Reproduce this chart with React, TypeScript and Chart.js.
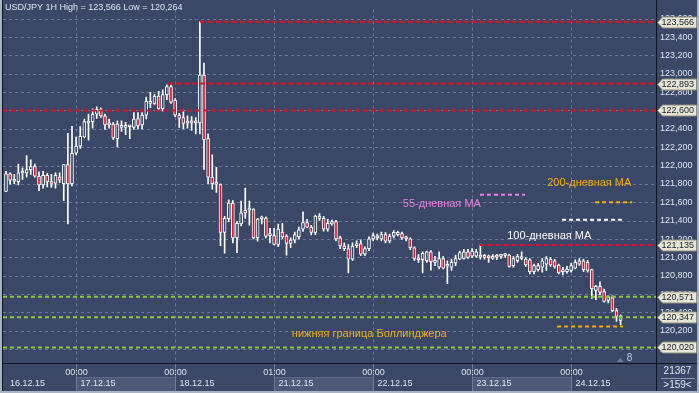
import React, { useEffect, useRef } from 'react';
import { Chart, registerables } from 'chart.js';

Chart.register(...registerables);

// ---------------- data ----------------
const opens = [
  121.719, 121.911, 121.829, 121.826, 121.917, 121.921, 121.953, 121.992, 121.883, 121.790,
  121.893, 121.826, 121.808, 121.875, 121.804, 122.010, 121.804, 122.134, 122.212, 122.311,
  122.464, 122.478, 122.560, 122.613, 122.542, 122.443, 122.453, 122.294, 122.417, 122.417,
  122.423, 122.417, 122.513, 122.443, 122.549, 122.701, 122.677, 122.754, 122.619, 122.772,
  122.861, 122.712, 122.549, 122.524, 122.462, 122.464, 122.488, 122.464, 122.985, 122.294,
  121.875, 121.804, 121.797, 121.273, 121.422, 121.592, 121.212, 121.364, 121.485, 121.515,
  121.521, 121.212, 121.420, 121.425, 121.237, 121.237, 121.141, 121.273, 121.231, 121.151,
  121.188, 121.223, 121.308, 121.379, 121.329, 121.273, 121.450, 121.425, 121.308, 121.364,
  121.390, 121.212, 121.124, 121.095, 120.981, 121.127, 121.151, 121.034, 121.095, 121.201,
  121.212, 121.201, 121.248, 121.176, 121.231, 121.248, 121.259, 121.212, 121.201, 121.105,
  120.988, 120.974, 120.964, 121.060, 120.946, 120.893, 120.988, 120.904, 120.893, 120.939,
  120.981, 120.988, 121.060, 121.013, 121.013, 121.003, 121.006, 121.001, 120.988, 121.006,
  121.011, 121.021, 121.024, 120.910, 120.964, 120.988, 120.981, 120.974, 120.846, 120.867,
  120.893, 120.927, 120.981, 120.964, 120.917, 120.846, 120.846, 120.857, 120.882, 120.927,
  120.964, 120.946, 120.867, 120.641, 120.684, 120.627, 120.531, 120.563, 120.421, 120.314,
];
const highs = [
  121.938, 121.921, 121.904, 122.016, 121.975, 122.109, 122.063, 122.016, 121.932, 121.938,
  121.917, 121.904, 121.921, 121.921, 122.014, 122.350, 122.428, 122.311, 122.425, 122.507,
  122.560, 122.619, 122.641, 122.630, 122.560, 122.507, 122.470, 122.488, 122.488, 122.470,
  122.435, 122.577, 122.577, 122.577, 122.747, 122.797, 122.772, 122.808, 122.826, 122.879,
  122.879, 122.730, 122.570, 122.605, 122.542, 122.534, 122.524, 123.566, 123.116, 122.345,
  122.116, 121.981, 121.802, 121.446, 121.627, 121.620, 121.390, 121.613, 121.754, 121.613,
  121.531, 121.425, 121.450, 121.441, 121.318, 121.318, 121.364, 121.372, 121.248, 121.212,
  121.277, 121.329, 121.496, 121.414, 121.350, 121.461, 121.478, 121.446, 121.414, 121.407,
  121.403, 121.233, 121.159, 121.141, 121.159, 121.180, 121.191, 121.116, 121.223, 121.265,
  121.255, 121.277, 121.271, 121.255, 121.292, 121.286, 121.277, 121.233, 121.212, 121.116,
  121.031, 121.060, 121.070, 121.073, 121.013, 121.060, 121.013, 120.964, 120.981, 121.024,
  121.070, 121.087, 121.087, 121.095, 121.087, 121.141, 121.034, 121.024, 121.031, 121.034,
  121.034, 121.045, 121.034, 121.009, 121.034, 121.060, 120.999, 120.988, 120.927, 120.935,
  120.988, 121.009, 120.999, 120.978, 120.927, 120.893, 120.903, 120.935, 120.974, 120.988,
  120.981, 120.967, 120.873, 120.695, 120.733, 120.655, 120.581, 120.581, 120.446, 120.374,
];
const lows = [
  121.717, 121.797, 121.804, 121.790, 121.850, 121.875, 121.904, 121.875, 121.726, 121.754,
  121.768, 121.761, 121.754, 121.815, 121.619, 121.364, 121.779, 122.116, 122.187, 122.300,
  122.276, 122.407, 122.513, 122.524, 122.393, 122.407, 122.286, 122.204, 122.371, 122.336,
  122.294, 122.393, 122.400, 122.400, 122.507, 122.630, 122.666, 122.595, 122.595, 122.719,
  122.677, 122.534, 122.417, 122.400, 122.407, 122.382, 122.345, 122.345, 121.957, 121.804,
  121.744, 121.709, 121.127, 121.045, 121.390, 121.159, 121.052, 121.343, 121.425, 121.350,
  121.201, 121.176, 121.364, 121.212, 121.159, 121.137, 121.116, 121.201, 121.024, 121.105,
  121.159, 121.201, 121.284, 121.322, 121.244, 121.248, 121.403, 121.286, 121.286, 121.350,
  121.180, 121.095, 121.073, 120.832, 120.967, 121.105, 121.020, 121.020, 121.073, 121.180,
  121.191, 121.180, 121.159, 121.159, 121.212, 121.233, 121.196, 121.180, 121.084, 120.967,
  120.946, 120.832, 120.946, 120.861, 120.910, 120.875, 120.875, 120.715, 120.857, 120.910,
  120.974, 120.981, 120.988, 120.999, 120.999, 120.981, 120.981, 120.946, 120.978, 120.974,
  120.988, 120.999, 120.893, 120.893, 120.946, 120.974, 120.903, 120.820, 120.820, 120.850,
  120.839, 120.857, 120.903, 120.882, 120.820, 120.810, 120.829, 120.839, 120.875, 120.914,
  120.846, 120.839, 120.552, 120.541, 120.592, 120.513, 120.503, 120.410, 120.304, 120.264,
];
const closes = [
  121.911, 121.840, 121.850, 121.921, 121.928, 121.957, 121.988, 121.885, 121.790, 121.893,
  121.826, 121.797, 121.893, 121.840, 122.010, 121.804, 122.134, 122.212, 122.318, 122.478,
  122.481, 122.560, 122.613, 122.542, 122.443, 122.461, 122.300, 122.453, 122.435, 122.430,
  122.425, 122.507, 122.435, 122.549, 122.701, 122.677, 122.754, 122.619, 122.772, 122.861,
  122.691, 122.549, 122.513, 122.460, 122.470, 122.488, 122.464, 122.985, 122.283, 121.875,
  121.804, 121.797, 121.273, 121.425, 121.592, 121.212, 121.372, 121.485, 121.513, 121.521,
  121.212, 121.414, 121.425, 121.231, 121.239, 121.141, 121.308, 121.223, 121.151, 121.188,
  121.248, 121.301, 121.379, 121.329, 121.273, 121.450, 121.425, 121.308, 121.372, 121.390,
  121.201, 121.124, 121.095, 120.981, 121.124, 121.148, 121.034, 121.095, 121.201, 121.237,
  121.231, 121.248, 121.176, 121.231, 121.273, 121.273, 121.212, 121.201, 121.105, 120.988,
  120.974, 121.045, 121.060, 120.953, 120.964, 120.988, 120.882, 120.910, 120.946, 120.988,
  121.052, 121.060, 120.999, 121.070, 121.060, 121.006, 121.001, 120.995, 121.013, 121.003,
  121.013, 121.024, 120.903, 120.988, 121.009, 121.009, 120.917, 120.846, 120.910, 120.910,
  120.964, 120.988, 120.917, 120.903, 120.832, 120.867, 120.873, 120.910, 120.946, 120.964,
  120.867, 120.857, 120.659, 120.684, 120.620, 120.520, 120.574, 120.421, 120.357, 120.363,
];

// session boundaries (candle index) and axis texts
const gridIndex = [17, 41, 65, 89, 113, 137];
const timeLabels = ['00:00', '00:00', '01:00', '00:00', '00:00', '00:00'];
const dateLabels = ['16.12.15', '17.12.15', '18.12.15', '21.12.15', '22.12.15', '23.12.15', '24.12.15'];

// horizontal levels
const redLevels = [123.566, 122.893, 122.6, 121.135];
const redLevelFrom = [47, 39.3, -1, 114.8];
const greenLevels = [120.571, 120.347, 120.02];
const tagLevels = [123.566, 122.893, 122.6, 121.135, 120.571, 120.347, 120.02];

// moving-average / band markers
const maNames = ['55-дневная МА', '200-дневная МА', '100-дневная МА', 'нижняя граница Боллинджера'];
const maValues = [121.683, 121.602, 121.411, 120.247];
const maFrom = [114.9, 142.8, 134.8, 133.6];
const maTo = [125.8, 151.8, 149.3, 149.6];

const titleText = 'USD/JPY 1H High = 123,566 Low = 120,264';
const infoTop = '21367';
const infoBottom = '>159<';
const barsLabel = '8';

// ---------------- styles ----------------
const X_MIN = -0.727;
const X_MAX = 157.576;
const Y_MIN = 119.85;
const Y_MAX = 123.701;
const BG = '#3a4766';
const RED = '#dd1128';
const GREEN = '#8ec63f';
const GRID = '#66779a';
const maColors = ['#e780de', '#f3ad0a', '#ffffff', '#f3ad0a'];
const maLabelX = [96.2, 131.2, 121.5, 69.3];
const maLabelY = [121.584, 121.808, 121.229, 120.169];
const FONT = '"Liberation Sans", Arial, sans-serif';

const fmt = (v: number) => v.toFixed(3).replace('.', ',');

const decor = {
  id: 'decor',
  beforeDraw(chart: any) {
    const { ctx, chartArea: ca, scales } = chart;
    const W = chart.width;
    const H = chart.height;
    const xs = scales.x;
    ctx.save();
    ctx.fillStyle = BG;
    ctx.fillRect(0, 0, W, H);
    const gx = gridIndex.map((i) => Math.round(xs.getPixelForValue(i)) + 0.5);
    const bounds = [ca.left, ...gx, ca.right];
    for (let k = 0; k < bounds.length - 1; k++) {
      ctx.fillStyle = k % 2 === 1 ? '#4d5977' : '#3c4866';
      ctx.fillRect(bounds[k], ca.bottom + 14, bounds[k + 1] - bounds[k], H - 2 - (ca.bottom + 14));
      if (k % 2 === 1) {
        ctx.fillStyle = '#5d6986';
        ctx.fillRect(bounds[k], ca.bottom + 14, bounds[k + 1] - bounds[k], 1);
      }
    }
    ctx.restore();
  },
  beforeDatasetsDraw(chart: any) {
    const { ctx, chartArea: ca, scales } = chart;
    const xs = scales.x;
    const ys = scales.y;
    ctx.save();
    ctx.strokeStyle = GRID;
    ctx.lineWidth = 1;
    ctx.setLineDash([3, 3]);
    ys.ticks.forEach((t: any) => {
      const y = Math.round(ys.getPixelForValue(t.value)) + 0.5;
      ctx.beginPath();
      ctx.moveTo(ca.left, y);
      ctx.lineTo(ca.right, y);
      ctx.stroke();
    });
    gridIndex.forEach((i) => {
      const x = Math.round(xs.getPixelForValue(i)) + 0.5;
      ctx.beginPath();
      ctx.moveTo(x, ca.top);
      ctx.lineTo(x, ca.bottom);
      ctx.stroke();
    });
    ctx.restore();
  },
  afterDraw(chart: any) {
    const { ctx, chartArea: ca, scales } = chart;
    const W = chart.width;
    const H = chart.height;
    const xs = scales.x;
    const ys = scales.y;
    ctx.save();
    // frame lines
    ctx.fillStyle = '#10141c';
    ctx.fillRect(0, ca.bottom, W, 1);
    ctx.fillRect(ca.right, 0, 1, H);
    ctx.fillRect(2, 0, 1, H);
    ctx.fillStyle = '#a9b2c2';
    ctx.fillRect(0, 0, 2, H);
    ctx.fillRect(0, H - 2, W, 2);
    ctx.fillRect(W - 2, 0, 2, H);

    // bottom axis separators and labels
    const gx = gridIndex.map((i) => Math.round(xs.getPixelForValue(i)) + 0.5);
    ctx.strokeStyle = '#6f7c99';
    ctx.lineWidth = 1;
    gx.forEach((x) => {
      ctx.beginPath();
      ctx.moveTo(x, ca.bottom + 1);
      ctx.lineTo(x, H - 2);
      ctx.stroke();
    });
    ctx.font = '9px ' + FONT;
    ctx.fillStyle = '#dfe5ee';
    ctx.textBaseline = 'middle';
    ctx.textAlign = 'center';
    gx.forEach((x, k) => ctx.fillText(timeLabels[k], x, ca.bottom + 10));
    ctx.textAlign = 'left';
    dateLabels.forEach((d, k) => {
      const x = k === 0 ? ca.left + 7 : gx[k - 1] + 4;
      ctx.fillText(d, x, ca.bottom + 21);
    });

    // info box bottom right
    ctx.textAlign = 'center';
    ctx.font = '10px ' + FONT;
    const cx = (ca.right + W) / 2;
    ctx.fillText(infoTop, cx, ca.bottom + 8);
    ctx.fillText(infoBottom, cx, ca.bottom + 22);
    ctx.fillStyle = '#8d97ab';
    ctx.fillRect(ca.right + 5, ca.bottom + 15, W - ca.right - 9, 1);

    // title
    ctx.textAlign = 'left';
    ctx.font = '9px ' + FONT;
    ctx.fillStyle = '#dfe5ee';
    ctx.fillText(titleText, ca.left + 2, 8);

    // MA annotations
    ctx.font = '11px ' + FONT;
    maNames.forEach((n, k) => {
      ctx.fillStyle = maColors[k];
      ctx.fillText(n, xs.getPixelForValue(maLabelX[k]), ys.getPixelForValue(maLabelY[k]));
    });

    // bars counter
    ctx.fillStyle = '#6e7a93';
    const tx = xs.getPixelForValue(149.5);
    ctx.beginPath();
    ctx.moveTo(tx - 6, ca.bottom - 1);
    ctx.lineTo(tx - 2.5, ca.bottom - 5);
    ctx.lineTo(tx + 1, ca.bottom - 1);
    ctx.closePath();
    ctx.fill();
    ctx.font = '10px ' + FONT;
    ctx.fillStyle = '#a9c8ef';
    ctx.fillText(barsLabel, tx + 4, ca.bottom - 5);

    // price tags
    ctx.font = '9px ' + FONT;
    tagLevels.forEach((v) => {
      const y = Math.round(ys.getPixelForValue(v)) + 0.5;
      const x0 = ca.right + 1.5;
      const x1 = W - 2.5;
      const h = 11;
      ctx.beginPath();
      ctx.moveTo(x0, y);
      ctx.lineTo(x0 + 5, y - h / 2);
      ctx.lineTo(x1, y - h / 2);
      ctx.lineTo(x1, y + h / 2);
      ctx.lineTo(x0 + 5, y + h / 2);
      ctx.closePath();
      ctx.fillStyle = '#e7e5d4';
      ctx.fill();
      ctx.strokeStyle = '#8f8d7c';
      ctx.stroke();
      ctx.fillStyle = '#18202e';
      ctx.fillText(fmt(v), x0 + 4, y + 0.5);
    });
    ctx.restore();
  },
};

export default function App() {
  const ref = useRef<HTMLCanvasElement | null>(null);
  useEffect(() => {
    if (!ref.current) return;
    const levelSets: any[] = [];
    redLevels.forEach((v, k) => {
      levelSets.push({
        type: 'line',
        data: [{ x: Math.max(redLevelFrom[k], X_MIN), y: v }, { x: X_MAX, y: v }],
        borderColor: RED,
        borderWidth: 2,
        borderDash: [5, 3],
        pointRadius: 0,
      });
    });
    greenLevels.forEach((v) => {
      levelSets.push({
        type: 'line',
        data: [{ x: X_MIN, y: v }, { x: X_MAX, y: v }],
        borderColor: GREEN,
        borderWidth: 2,
        borderDash: [4, 3],
        pointRadius: 0,
      });
    });
    maValues.forEach((v, k) => {
      levelSets.push({
        type: 'line',
        data: [{ x: maFrom[k], y: v }, { x: maTo[k], y: v }],
        borderColor: maColors[k],
        borderWidth: 2,
        borderDash: [4, 3],
        pointRadius: 0,
      });
    });
    const bodies = {
      type: 'bar',
      data: opens.map((o, i) => ({ x: i, y: [o, closes[i]] })),
      backgroundColor: opens.map((o, i) => (closes[i] < o ? RED : BG)),
      borderColor: '#ffffff',
      borderWidth: 1,
      borderSkipped: false,
      barThickness: 3,
      minBarLength: 2,
      grouped: false,
    };
    const wicks = {
      type: 'bar',
      data: lows.map((l, i) => ({ x: i, y: [l, highs[i]] })),
      backgroundColor: '#ffffff',
      borderWidth: 0,
      barThickness: 1,
      grouped: false,
    };
    const chart = new Chart(ref.current, {
      type: 'bar',
      data: { datasets: [...levelSets, bodies, wicks] as any },
      options: {
        responsive: false,
        animation: false,
        events: [],
        layout: { padding: { left: 3, top: 1, right: 0, bottom: 30 } },
        plugins: { legend: { display: false }, tooltip: { enabled: false }, title: { display: false } },
        scales: {
          x: { type: 'linear', min: X_MIN, max: X_MAX, display: false, offset: false },
          y: {
            position: 'right',
            min: Y_MIN,
            max: Y_MAX,
            grid: { display: false, drawTicks: false },
            border: { display: false },
            afterFit: (s: any) => {
              s.width = 43;
            },
            ticks: {
              stepSize: 0.2,
              includeBounds: false,
              padding: 4,
              color: '#dfe5ee',
              font: { size: 9, family: FONT },
              callback: (v: any) => fmt(Number(v)),
            },
          },
        },
      } as any,
      plugins: [decor],
    });
    return () => chart.destroy();
  }, []);
  return (
    <div style={{ position: 'fixed', left: 0, top: 0, width: 699, height: 393 }}>
      <canvas ref={ref} width={699} height={393} style={{ width: 699, height: 393, display: 'block' }} />
    </div>
  );
}
